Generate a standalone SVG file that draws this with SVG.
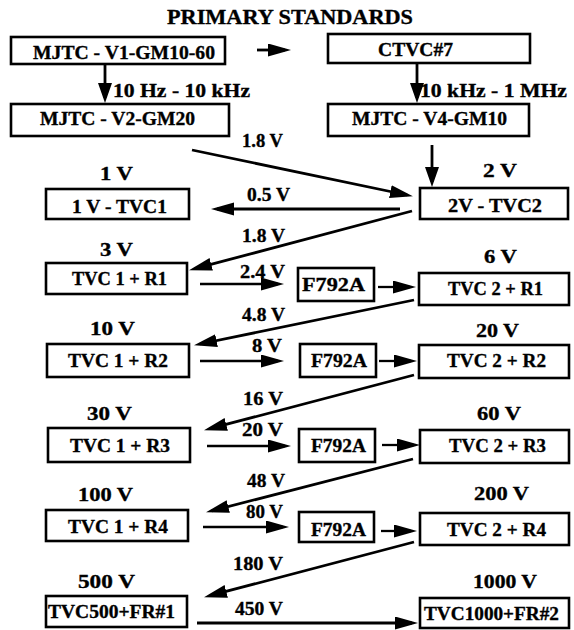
<svg xmlns="http://www.w3.org/2000/svg" width="574" height="630" viewBox="0 0 574 630">
<style>
text{font-family:'Liberation Serif','Times New Roman',serif;font-weight:700;fill:#000;font-size:19px;stroke:#000;stroke-width:0.35}
.title{font-size:22px}
rect{fill:#fff;stroke:#000;stroke-width:2.6}
.c line{stroke:#000;stroke-width:2.8;fill:none;marker-end:url(#ah)}
.c line.thin{stroke-width:2.3}
.c line.v{marker-end:url(#ahv)}
</style>
<defs>
<marker id="ah" markerUnits="userSpaceOnUse" markerWidth="24" markerHeight="14" refX="17" refY="6.5" orient="auto">
<path d="M0,0 L23,6.5 L0,13 Z" fill="#000"/>
</marker>
<marker id="ahv" markerUnits="userSpaceOnUse" markerWidth="22" markerHeight="16" refX="15" refY="7" orient="auto">
<path d="M0,0 L20,7 L0,14 Z" fill="#000"/>
</marker>
</defs>
<rect x="0" y="0" width="574" height="630" style="stroke:none"/>
<text class="title" x="167" y="24" textLength="246" lengthAdjust="spacingAndGlyphs">PRIMARY STANDARDS</text>

<g id="n-v1gm1060"><rect x="11" y="37" width="214" height="27"/><text x="33" y="59" textLength="182" lengthAdjust="spacingAndGlyphs">MJTC - V1-GM10-60</text></g>
<g id="n-ctvc7"><rect x="328" y="34" width="202" height="29"/><text x="378" y="56" textLength="75" lengthAdjust="spacingAndGlyphs">CTVC#7</text></g>
<g id="n-v2gm20"><rect x="11" y="104" width="218" height="32"/><text x="40" y="125" textLength="155" lengthAdjust="spacingAndGlyphs">MJTC - V2-GM20</text></g>
<g id="n-v4gm10"><rect x="328" y="104" width="201" height="32"/><text x="352" y="125" textLength="155" lengthAdjust="spacingAndGlyphs">MJTC - V4-GM10</text></g>

<g id="n-2v-tvc2"><text x="483" y="177" textLength="34" lengthAdjust="spacingAndGlyphs">2 V</text><rect x="420" y="188" width="148" height="31"/><text x="448" y="212" textLength="94" lengthAdjust="spacingAndGlyphs">2V - TVC2</text></g>
<g id="n-1v-tvc1"><text x="100" y="180" textLength="33" lengthAdjust="spacingAndGlyphs">1 V</text><rect x="46" y="189" width="143" height="30"/><text x="72" y="213" textLength="95" lengthAdjust="spacingAndGlyphs">1 V - TVC1</text></g>

<g id="n-tvc1-r1"><text x="100" y="256" textLength="33" lengthAdjust="spacingAndGlyphs">3 V</text><rect x="46" y="263" width="141" height="31"/><text x="72" y="285" textLength="95" lengthAdjust="spacingAndGlyphs">TVC 1 + R1</text></g>
<g id="n-f792a-1"><rect x="298" y="268" width="76" height="33"/><text x="302" y="291" textLength="63" lengthAdjust="spacingAndGlyphs">F792A</text></g>
<g id="n-tvc2-r1"><text x="484" y="263" textLength="33" lengthAdjust="spacingAndGlyphs">6 V</text><rect x="419" y="273" width="150" height="32"/><text x="448" y="295" textLength="95" lengthAdjust="spacingAndGlyphs">TVC 2 + R1</text></g>

<g id="n-tvc1-r2"><text x="90" y="335" textLength="45" lengthAdjust="spacingAndGlyphs">10 V</text><rect x="47" y="344" width="142" height="33"/><text x="68" y="367" textLength="100" lengthAdjust="spacingAndGlyphs">TVC 1 + R2</text></g>
<g id="n-f792a-2"><rect x="300" y="344" width="76" height="33"/><text x="311" y="367" textLength="56" lengthAdjust="spacingAndGlyphs">F792A</text></g>
<g id="n-tvc2-r2"><text x="476" y="337" textLength="43" lengthAdjust="spacingAndGlyphs">20 V</text><rect x="419" y="345" width="150" height="33"/><text x="447" y="367" textLength="99" lengthAdjust="spacingAndGlyphs">TVC 2 + R2</text></g>

<g id="n-tvc1-r3"><text x="87" y="420" textLength="45" lengthAdjust="spacingAndGlyphs">30 V</text><rect x="48" y="428" width="142" height="34"/><text x="70" y="452" textLength="100" lengthAdjust="spacingAndGlyphs">TVC 1 + R3</text></g>
<g id="n-f792a-3"><rect x="299" y="429" width="76" height="33"/><text x="311" y="452" textLength="55" lengthAdjust="spacingAndGlyphs">F792A</text></g>
<g id="n-tvc2-r3"><text x="477" y="420" textLength="44" lengthAdjust="spacingAndGlyphs">60 V</text><rect x="420" y="430" width="149" height="33"/><text x="449" y="452" textLength="97" lengthAdjust="spacingAndGlyphs">TVC 2 + R3</text></g>

<g id="n-tvc1-r4"><text x="78" y="501" textLength="55" lengthAdjust="spacingAndGlyphs">100 V</text><rect x="46" y="510" width="142" height="31"/><text x="68" y="533" textLength="100" lengthAdjust="spacingAndGlyphs">TVC 1 + R4</text></g>
<g id="n-f792a-4"><rect x="299" y="512" width="75" height="30"/><text x="311" y="536" textLength="55" lengthAdjust="spacingAndGlyphs">F792A</text></g>
<g id="n-tvc2-r4"><text x="474" y="500" textLength="55" lengthAdjust="spacingAndGlyphs">200 V</text><rect x="420" y="513" width="149" height="32"/><text x="447" y="536" textLength="99" lengthAdjust="spacingAndGlyphs">TVC 2 + R4</text></g>

<g id="n-tvc500"><text x="78" y="588" textLength="57" lengthAdjust="spacingAndGlyphs">500 V</text><rect x="46" y="596" width="141" height="31"/><text x="48" y="618" textLength="127" lengthAdjust="spacingAndGlyphs">TVC500+FR#1</text></g>
<g id="n-tvc1000"><text x="473" y="588" textLength="64" lengthAdjust="spacingAndGlyphs">1000 V</text><rect x="420" y="598" width="149" height="30"/><text x="424" y="620" textLength="135" lengthAdjust="spacingAndGlyphs">TVC1000+FR#2</text></g>

<g id="connectors" class="c">
<line x1="257" y1="50" x2="285" y2="50"/>
<line class="v" x1="105" y1="65" x2="105" y2="98"/>
<line class="v" x1="417" y1="64" x2="417" y2="98"/>
<line x1="192" y1="150" x2="407" y2="195"/>
<line class="v" x1="432" y1="145" x2="432" y2="182"/>
<line x1="400" y1="209" x2="217" y2="209"/>
<line x1="412" y1="211" x2="194.8" y2="268.7"/>
<line class="thin" x1="200" y1="284" x2="278" y2="284"/>
<line class="thin" x1="378" y1="287" x2="410" y2="287"/>
<line x1="414" y1="300" x2="199.9" y2="344"/>
<line class="thin" x1="200" y1="361" x2="278" y2="361"/>
<line class="thin" x1="379" y1="361" x2="411" y2="361"/>
<line x1="414" y1="375" x2="209.8" y2="428.7"/>
<line class="thin" x1="207" y1="446" x2="285" y2="446"/>
<line class="thin" x1="382" y1="445" x2="414" y2="445"/>
<line x1="413" y1="459" x2="211.8" y2="510.8"/>
<line class="thin" x1="203" y1="527" x2="283" y2="527"/>
<line class="thin" x1="381" y1="531" x2="411" y2="531"/>
<line x1="414" y1="542" x2="209.8" y2="595.7"/>
<line x1="197" y1="623" x2="412" y2="623"/>
</g>
<g id="connector-labels">
<text x="113" y="97" textLength="137" lengthAdjust="spacingAndGlyphs">10 Hz - 10 kHz</text>
<text x="420" y="97" textLength="147" lengthAdjust="spacingAndGlyphs">10 kHz - 1 MHz</text>
<text x="242" y="147" textLength="41" lengthAdjust="spacingAndGlyphs">1.8 V</text>
<text x="247" y="201" textLength="43" lengthAdjust="spacingAndGlyphs">0.5 V</text>
<text x="242" y="242" textLength="43" lengthAdjust="spacingAndGlyphs">1.8 V</text>
<text x="240" y="278" textLength="45" lengthAdjust="spacingAndGlyphs">2.4 V</text>
<text x="242" y="321" textLength="43" lengthAdjust="spacingAndGlyphs">4.8 V</text>
<text x="252" y="352" textLength="30" lengthAdjust="spacingAndGlyphs">8 V</text>
<text x="243" y="405" textLength="40" lengthAdjust="spacingAndGlyphs">16 V</text>
<text x="242" y="436" textLength="41" lengthAdjust="spacingAndGlyphs">20 V</text>
<text x="247" y="487" textLength="38" lengthAdjust="spacingAndGlyphs">48 V</text>
<text x="246" y="518" textLength="37" lengthAdjust="spacingAndGlyphs">80 V</text>
<text x="233" y="570" textLength="50" lengthAdjust="spacingAndGlyphs">180 V</text>
<text x="235" y="615" textLength="48" lengthAdjust="spacingAndGlyphs">450 V</text>
</g>
</svg>
